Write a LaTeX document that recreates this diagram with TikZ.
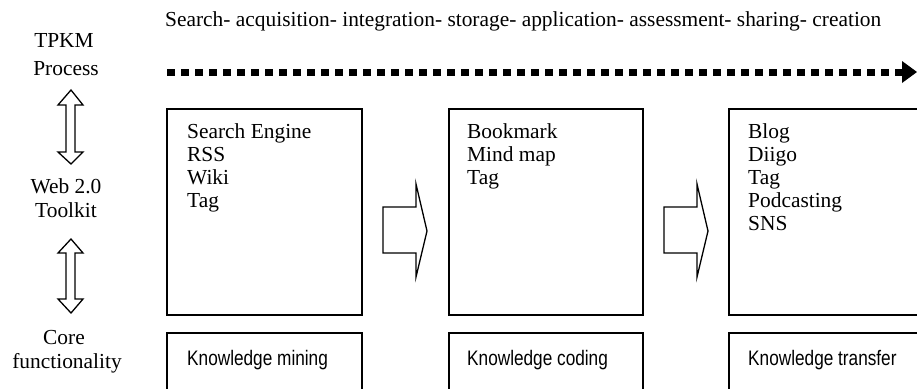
\documentclass[tikz,border=0pt]{standalone}
\usepackage{fontspec}
\setmainfont{Liberation Serif}
\newfontfamily\narrowsans[FakeStretch=0.82]{Liberation Sans}
\begin{document}
\begin{tikzpicture}[x=1pt,y=-1pt,
  box/.style={draw,line width=1.4pt},
  txt/.style={font=\fontsize{21.4}{24}\selectfont,inner sep=0pt,align=left,anchor=base west},
  blk/.style={font=\fontsize{21.4}{23}\selectfont,inner sep=0pt,align=left,anchor=north west},
  lab/.style={font=\fontsize{21.4}{24}\selectfont,inner sep=0pt,align=center,anchor=base},
  core/.style={font=\narrowsans\fontsize{21}{24}\selectfont,inner sep=0pt,anchor=base west},
  blockarrow/.style={draw,line width=1.3pt,fill=white,line join=miter}]
\useasboundingbox (0,0) rectangle (917,388);
\clip (0,0) rectangle (917,388);
% top process text
\node[txt] (proc) at (165,27) {Search- acquisition- integration- storage- application- assessment- sharing- creation};
% dotted arrow
\coordinate (ds) at (167,72);
\coordinate (de) at (903,72);
\draw[line width=7pt,dash pattern=on 8pt off 6pt] (ds) -- (de);
\fill (902,61) -- (917,72) -- (902,83) -- cycle;
% left labels
\node[lab] (tpkm) at (64,47) {TPKM};
\node[lab] (tpkm2) at (66,75) {Process};
\node[lab] (web) at (66,193) {Web 2.0};
\node[lab] (web2) at (66,217) {Toolkit};
\node[lab] (cor) at (64,344) {Core};
\node[lab] (cor2) at (67,368) {functionality};
% double arrows
\draw[blockarrow] (71,90) -- (83,105) -- (75,105) -- (75,152) -- (83,152) -- (71,164) -- (58,152) -- (66,152) -- (66,105) -- (58,105) -- cycle;
\draw[blockarrow] (71,239) -- (83,253) -- (75,253) -- (75,299) -- (83,299) -- (71,313) -- (58,299) -- (66,299) -- (66,253) -- (58,253) -- cycle;
% boxes
\draw[box] (167,109) rectangle (362,315);
\draw[box] (449,109) rectangle (643,315);
\draw[box] (729,109) rectangle (930,315);
\draw[box] (167,333) rectangle (362,400);
\draw[box] (449,333) rectangle (643,400);
\draw[box] (729,333) rectangle (930,400);
% box contents
\node[blk] (t1) at (187,123) {Search Engine\\RSS\\Wiki\\Tag};
\node[blk] (t2) at (467,123) {Bookmark\\Mind map\\Tag};
\node[blk] (t3) at (748,123) {Blog\\Diigo\\Tag\\Podcasting\\SNS};
\node[core] (k1) at (187,365) {Knowledge mining};
\node[core] (k2) at (467,365) {Knowledge coding};
\node[core] (k3) at (748,365) {Knowledge transfer};
% block arrows between boxes
\draw[blockarrow] (383,207) -- (416,207) -- (416,184) -- (427,231) -- (416,277) -- (416,253) -- (383,253) -- cycle;
\draw[blockarrow] (664,207) -- (697,207) -- (697,184) -- (708,231) -- (697,277) -- (697,253) -- (664,253) -- cycle;
\end{tikzpicture}
\end{document}
